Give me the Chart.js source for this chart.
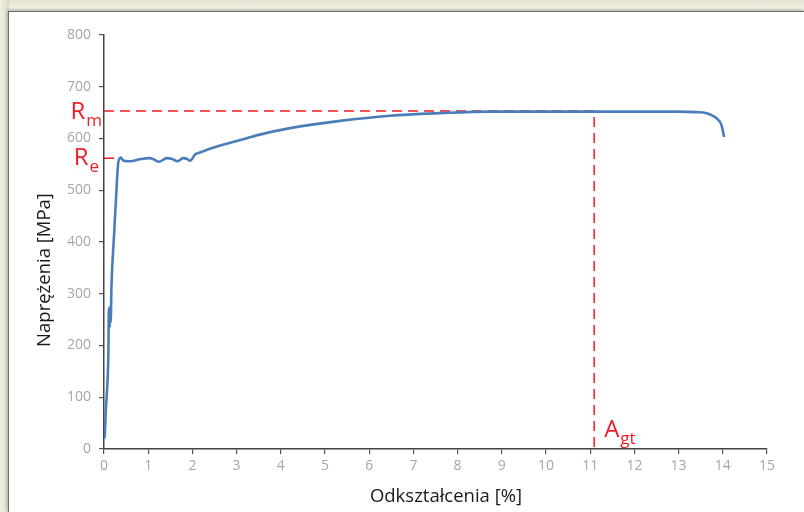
<!DOCTYPE html>
<html>
<head>
<meta charset="utf-8">
<script src="https://cdn.jsdelivr.net/npm/chart.js@4.4.1/dist/chart.umd.min.js"></script>
<style>
  html, body { margin: 0; padding: 0; }
  body { width: 804px; height: 512px; position: relative; overflow: hidden;
         background: linear-gradient(to bottom, #e4e2cd 0px, #f1f0e4 8px, #e9e7d6 11px); }
  #side { position: absolute; left: 0; top: 0; width: 9px; height: 512px;
          background: linear-gradient(to right, #efeee2 0px, #e5e3d0 6px, #d9d7c4 9px); }
  #panel { position: absolute; left: 8px; top: 11px; right: 0; bottom: 0; background: #ffffff;
           border-left: 1px solid #6e6e6e; border-top: 1px solid #6e6e6e;
           box-shadow: -1px -1px 3px rgba(0,0,0,0.25); }
  #wrap { position: absolute; left: 0; top: 0; width: 804px; height: 512px; }
</style>
</head>
<body>
<div id="side"></div>
<div id="panel"></div>
<div id="wrap"><canvas id="c" width="804" height="512"></canvas></div>
<script>
// ---- data ----
const strain = [0.01, 0.02, 0.045, 0.06, 0.1, 0.11, 0.125, 0.13, 0.14, 0.15, 0.17, 0.23, 0.29, 0.32, 0.36, 0.38, 0.44, 0.59, 0.81, 1.04, 1.12, 1.24, 1.42, 1.53, 1.66, 1.79, 1.87, 1.95, 2.06, 2.17, 2.5, 3.08, 3.5, 4.21, 5.34, 6.47, 7.6, 8.73, 10, 11.09, 12, 13, 13.4, 13.63, 13.86, 13.97, 14.03];
const stress = [20, 31, 82, 101, 191, 272, 262, 235, 276, 245, 318, 417, 513, 552, 562, 563, 557, 556, 560, 562, 560, 555, 562, 561, 556, 562, 561, 557, 569, 573, 583, 597, 607, 620, 634, 644, 649, 652, 652, 652, 652, 652, 651, 649, 639, 626, 603];

const Rm = 653;        // MPa
const Re = 562;        // MPa
const Agt = 11.09;     // %
const ReStrain = 0.38; // % (end of Re marker)

const xTicks = [0,1,2,3,4,5,6,7,8,9,10,11,12,13,14,15];
const yTicks = [0,100,200,300,400,500,600,700,800];

const xTitle = 'Odkształcenia [%]';
const yTitle = 'Naprężenia [MPa]';

// ---- build datasets ----
const curve = strain.map((s, i) => ({ x: s, y: stress[i] }));
const rmLine = [{ x: 0, y: Rm }, { x: Agt, y: Rm }, { x: Agt, y: 0 }];
const reLine = [{ x: 0, y: Re }, { x: ReStrain, y: Re }];

const RED = '#ee1c25';
const FONT = "'Open Sans', 'Noto Sans', sans-serif";

const labelPlugin = {
  id: 'labels',
  afterDatasetsDraw(chart) {
    const ctx = chart.ctx;
    const xs = chart.scales.x, ys = chart.scales.y;
    ctx.save();
    ctx.fillStyle = RED;
    ctx.textBaseline = 'alphabetic';
    function sub(main, subText, xLeft, baseY) {
      ctx.font = '24px ' + FONT;
      ctx.textAlign = 'left';
      ctx.fillText(main, xLeft, baseY);
      const w = ctx.measureText(main).width;
      ctx.font = '17px ' + FONT;
      ctx.fillText(subText, xLeft + w + 1, baseY + 7);
    }
    function width(main, subText) {
      ctx.font = '24px ' + FONT; const a = ctx.measureText(main).width;
      ctx.font = '17px ' + FONT; const b = ctx.measureText(subText).width;
      return a + 1 + b;
    }
    const axisX = xs.left;
    const yRm = ys.getPixelForValue(Rm);
    const yRe = ys.getPixelForValue(Re);
    sub('R', 'm', axisX - 2 - width('R', 'm'), yRm + 7.5);
    sub('R', 'e', axisX - 5 - width('R', 'e'), yRe + 7);
    const xA = xs.getPixelForValue(Agt);
    sub('A', 'gt', xA + 10, ys.getPixelForValue(0) - 12);

    // axis titles
    ctx.fillStyle = '#1a1a1a';
    ctx.font = '18.5px ' + FONT;
    ctx.textAlign = 'center';
    ctx.textBaseline = 'middle';
    ctx.fillText(xTitle, 446, 497);
    ctx.translate(45, 270);
    ctx.rotate(-Math.PI / 2);
    ctx.fillText(yTitle, 0, 0);
    ctx.restore();
  }
};

new Chart(document.getElementById('c'), {
  type: 'line',
  data: {
    datasets: [
      { data: curve, borderColor: '#4a7ebb', borderWidth: 2.6, pointRadius: 0,
        cubicInterpolationMode: 'monotone', fill: false, order: 0 },
      { data: rmLine, borderColor: RED, borderWidth: 1.5, borderDash: [10, 6],
        pointRadius: 0, tension: 0, fill: false, order: 1 },
      { data: reLine, borderColor: RED, borderWidth: 1.5, borderDash: [10, 6],
        pointRadius: 0, tension: 0, fill: false, order: 1 }
    ]
  },
  options: {
    responsive: false,
    animation: false,
    devicePixelRatio: 1,
    layout: { padding: { left: 0, top: 35, right: 37, bottom: 0 } },
    plugins: { legend: { display: false }, tooltip: { enabled: false } },
    scales: {
      x: {
        type: 'linear', min: 0, max: 15,
        afterBuildTicks(s) { s.ticks = xTicks.map(v => ({ value: v })); },
        afterFit(s) { s.height = 63; },
        grid: { drawOnChartArea: false, drawTicks: true, tickLength: 5, color: '#555', lineWidth: 1.2 },
        border: { display: true, color: '#444', width: 1.5 },
        ticks: { color: '#a6a6a6', font: { family: FONT, size: 14 }, padding: 4 },
        title: { display: false }
      },
      y: {
        type: 'linear', min: 0, max: 800,
        afterBuildTicks(s) { s.ticks = yTicks.map(v => ({ value: v })); },
        afterFit(s) { s.width = 104; },
        grid: { drawOnChartArea: false, drawTicks: true, tickLength: 5, color: '#555', lineWidth: 1.2 },
        border: { display: true, color: '#444', width: 1.5 },
        ticks: { color: '#a6a6a6', font: { family: FONT, size: 14 }, padding: 8 },
        title: { display: false }
      }
    }
  },
  plugins: [labelPlugin]
});
</script>
</body>
</html>
